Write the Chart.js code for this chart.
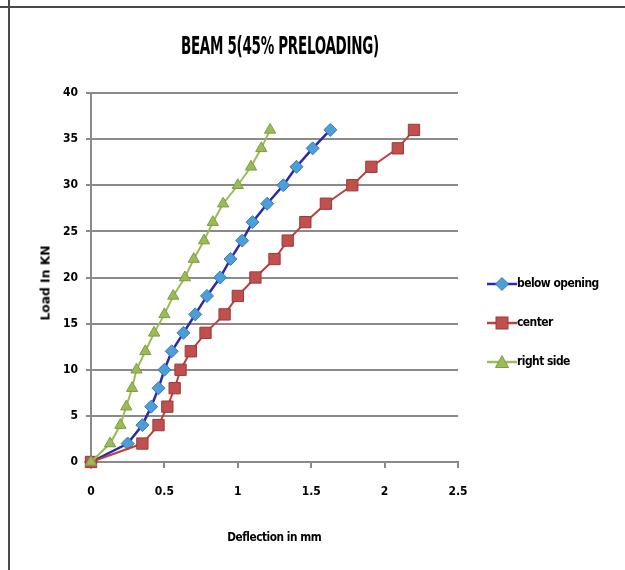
<!DOCTYPE html>
<html>
<head>
<meta charset="utf-8">
<script src="https://cdn.jsdelivr.net/npm/chart.js@4"></script>
<style>
  body { margin: 0; background: #fff; }
  #wrap { position: relative; width: 625px; height: 570px; overflow: hidden; font-family: "DejaVu Sans Condensed", "Liberation Sans", sans-serif; font-weight: bold; color: #000; }
  #chart { position: absolute; left: 0; top: 0; }
  .bline { position: absolute; background: #4a4a4a; }
  .txt { position: absolute; white-space: nowrap; }
  #title { left: 0; width: 560px; top: 31px; text-align: center; font-size: 25px; }
  #title span { display: inline-block; transform: scaleX(0.6); letter-spacing: -0.5px; }
  #xtitle { left: 0; width: 548px; top: 529px; text-align: center; font-size: 13px; }
  #xtitle span { display: inline-block; transform: scaleX(0.9); letter-spacing: -0.5px; }
  #ytitle { left: 45px; top: 283px; font-size: 13px; transform: translate(-50%, -50%) rotate(-90deg) scaleX(1.05); }
  .leg { position: absolute; left: 486px; width: 130px; height: 16px; font-size: 13px; white-space: nowrap; }
  .leg svg { position: absolute; left: 0; top: 0; }
  .leg span { position: absolute; left: 31px; top: -1px; letter-spacing: -0.6px; transform-origin: left center; transform: scaleX(0.92); display: inline-block; white-space: nowrap; }
</style>
</head>
<body>
<div id="wrap">
  <canvas id="chart" width="625" height="570"></canvas>
  <div class="bline" style="left:0;top:6px;width:625px;height:2px;"></div>
  <div class="bline" style="left:8px;top:0;width:2px;height:570px;"></div>
  <div id="title" class="txt"><span>BEAM 5(45% PRELOADING)</span></div>
  <div id="xtitle" class="txt"><span>Deflection in mm</span></div>
  <div id="ytitle" class="txt">Load In KN</div>
  <div id="legend"></div>
</div>
<script>
// load steps (kN)
const loads = [0, 2, 4, 6, 8, 10, 12, 14, 16, 18, 20, 22, 24, 26, 28, 30, 32, 34, 36];
// deflections (mm)
const belowOpening = [0, 0.25, 0.35, 0.41, 0.46, 0.5, 0.55, 0.63, 0.71, 0.79, 0.88, 0.95, 1.03, 1.1, 1.2, 1.31, 1.4, 1.51, 1.63];
const center = [0, 0.35, 0.46, 0.52, 0.57, 0.61, 0.68, 0.78, 0.91, 1.0, 1.12, 1.25, 1.34, 1.46, 1.6, 1.78, 1.91, 2.09, 2.2];
const rightSide = [0, 0.13, 0.2, 0.24, 0.28, 0.31, 0.37, 0.43, 0.5, 0.56, 0.64, 0.7, 0.77, 0.83, 0.9, 1.0, 1.09, 1.16, 1.22];

const seriesNames = ["below opening", "center", "right side"];
const xTicks = [0, 0.5, 1, 1.5, 2, 2.5];
const yTicks = [0, 5, 10, 15, 20, 25, 30, 35, 40];

const styles = [
  { line: "#2a2aa8", fill: "#4b9fd5", border: "#3b74c0", shape: "rectRot", r: 6.5, w: 2.5 },
  { line: "#b9413e", fill: "#c0504d", border: "#9c3a38", shape: "rect", r: 8, w: 2 },
  { line: "#9bbb59", fill: "#9bbb59", border: "#7f9c3e", shape: "triangle", r: 6.5, w: 2 }
];

function pts(xs) {
  return xs.map((x, i) => ({ x: x, y: loads[i] }));
}

const allSeries = [belowOpening, center, rightSide];
const datasets = allSeries.map((s, i) => ({
  label: seriesNames[i],
  data: pts(s),
  showLine: true,
  borderColor: styles[i].line,
  borderWidth: styles[i].w,
  backgroundColor: styles[i].fill,
  pointBackgroundColor: styles[i].fill,
  pointBorderColor: styles[i].border,
  pointBorderWidth: 1,
  pointStyle: styles[i].shape,
  pointRadius: styles[i].r,
  tension: 0,
  clip: false
}));
// draw green first, then red, then blue on top like the picture
datasets.reverse();

const tickFont = { family: "'DejaVu Sans Condensed', sans-serif", size: 12, weight: "bold" };

new Chart(document.getElementById("chart").getContext("2d"), {
  type: "scatter",
  data: { datasets: datasets },
  options: {
    responsive: false,
    animation: false,
    layout: { padding: { top: 93, right: 167, bottom: 0, left: 0 } },
    plugins: { legend: { display: false }, tooltip: { enabled: false } },
    scales: {
      x: {
        type: "linear",
        min: 0,
        max: 2.5,
        afterFit: (scale) => { scale.height = 108; },
        afterBuildTicks: (scale) => { scale.ticks = xTicks.map((v) => ({ value: v })); },
        ticks: { color: "#000", font: tickFont, padding: 17, maxRotation: 0, callback: (v) => String(v) },
        grid: { drawOnChartArea: false, drawTicks: true, tickLength: 6, color: "#8a8a8a", lineWidth: 2 },
        border: { color: "#8a8a8a", width: 2 }
      },
      y: {
        type: "linear",
        min: 0,
        max: 40,
        afterFit: (scale) => { scale.width = 91; },
        afterBuildTicks: (scale) => { scale.ticks = yTicks.map((v) => ({ value: v })); },
        ticks: { color: "#000", font: tickFont, padding: 8, callback: (v) => String(v) },
        grid: { color: "#8a8a8a", lineWidth: 2, tickLength: 5 },
        border: { color: "#8a8a8a", width: 2 }
      }
    }
  }
});

// legend
const legendTops = [276, 315, 354];
const legendEl = document.getElementById("legend");
seriesNames.forEach((name, i) => {
  const st = styles[i];
  let marker = "";
  if (st.shape === "rectRot") {
    marker = '<polygon points="16,1.5 22.5,8 16,14.5 9.5,8" fill="' + st.fill + '" stroke="' + st.border + '"/>';
  } else if (st.shape === "rect") {
    marker = '<rect x="10" y="2" width="12" height="12" fill="' + st.fill + '" stroke="' + st.border + '"/>';
  } else {
    marker = '<polygon points="16,1.5 22.5,13.5 9.5,13.5" fill="' + st.fill + '" stroke="' + st.border + '"/>';
  }
  const div = document.createElement("div");
  div.className = "leg";
  div.style.top = legendTops[i] + "px";
  div.innerHTML = '<svg width="32" height="16"><line x1="1" y1="8" x2="31" y2="8" stroke="' + st.line + '" stroke-width="2.5"/>' + marker + '</svg><span>' + name + '</span>';
  legendEl.appendChild(div);
});
</script>
</body>
</html>
